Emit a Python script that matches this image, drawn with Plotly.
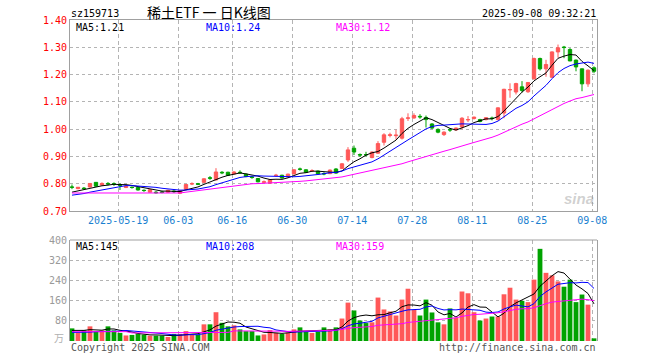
import plotly.graph_objects as go
import pandas as pd

# ---------------- data ----------------
dates = [d.strftime('%Y-%m-%d') for d in pd.bdate_range('2025-05-07', '2025-09-08')
         if d.strftime('%Y-%m-%d') != '2025-06-02']

opens = [0.788, 0.782, 0.784, 0.788, 0.805, 0.795, 0.801, 0.800, 0.797, 0.786,
         0.787, 0.786, 0.776, 0.769, 0.769, 0.770, 0.769, 0.773, 0.765, 0.780,
         0.799, 0.800, 0.805, 0.822, 0.814, 0.842, 0.842, 0.836, 0.842, 0.835,
         0.825, 0.819, 0.805, 0.802, 0.830, 0.831, 0.825, 0.836, 0.854, 0.851,
         0.847, 0.846, 0.837, 0.837, 0.854, 0.856, 0.887, 0.930, 0.907, 0.907,
         0.896, 0.912, 0.952, 0.977, 0.976, 0.967, 1.040, 1.041, 1.047, 1.043,
         1.019, 0.999, 0.980, 0.998, 0.997, 1.008, 1.034, 1.039, 1.035, 1.035,
         1.041, 1.035, 1.059, 1.144, 1.136, 1.155, 1.137, 1.185, 1.259, 1.221,
         1.190, 1.283, 1.301, 1.292, 1.253, 1.221, 1.166, 1.225]
highs = [0.797, 0.788, 0.788, 0.802, 0.806, 0.805, 0.806, 0.805, 0.801, 0.793,
         0.790, 0.788, 0.779, 0.780, 0.773, 0.774, 0.778, 0.776, 0.776, 0.798,
         0.805, 0.803, 0.820, 0.828, 0.857, 0.846, 0.844, 0.846, 0.849, 0.837,
         0.829, 0.821, 0.812, 0.816, 0.836, 0.833, 0.837, 0.853, 0.859, 0.853,
         0.853, 0.848, 0.842, 0.852, 0.857, 0.876, 0.934, 0.940, 0.911, 0.917,
         0.918, 0.956, 0.985, 0.987, 0.998, 1.045, 1.058, 1.058, 1.055, 1.050,
         1.022, 1.003, 0.992, 1.004, 1.006, 1.044, 1.048, 1.046, 1.038, 1.044,
         1.046, 1.080, 1.148, 1.168, 1.170, 1.176, 1.172, 1.262, 1.262, 1.254,
         1.285, 1.310, 1.305, 1.297, 1.255, 1.222, 1.219, 1.230]
lows = [0.780, 0.780, 0.778, 0.786, 0.789, 0.793, 0.794, 0.792, 0.777, 0.784,
        0.782, 0.775, 0.770, 0.768, 0.764, 0.765, 0.767, 0.766, 0.762, 0.778,
        0.795, 0.795, 0.803, 0.814, 0.812, 0.835, 0.828, 0.834, 0.836, 0.824,
        0.818, 0.805, 0.803, 0.800, 0.826, 0.819, 0.823, 0.834, 0.848, 0.840,
        0.843, 0.834, 0.831, 0.835, 0.836, 0.854, 0.880, 0.905, 0.898, 0.900,
        0.893, 0.910, 0.940, 0.970, 0.962, 0.962, 1.030, 1.038, 1.038, 1.006,
        1.000, 0.985, 0.975, 0.990, 0.995, 1.000, 1.026, 1.035, 1.025, 1.032,
        1.032, 1.032, 1.040, 1.115, 1.127, 1.135, 1.133, 1.180, 1.215, 1.192,
        1.188, 1.262, 1.260, 1.249, 1.212, 1.139, 1.155, 1.205]
closes = [0.787, 0.787, 0.782, 0.801, 0.791, 0.801, 0.799, 0.798, 0.794, 0.791,
          0.786, 0.777, 0.775, 0.778, 0.767, 0.768, 0.776, 0.771, 0.775, 0.797,
          0.800, 0.798, 0.818, 0.820, 0.843, 0.840, 0.831, 0.843, 0.840, 0.826,
          0.823, 0.807, 0.807, 0.814, 0.831, 0.821, 0.835, 0.851, 0.853, 0.842,
          0.848, 0.836, 0.836, 0.850, 0.839, 0.873, 0.924, 0.916, 0.905, 0.906,
          0.916, 0.947, 0.979, 0.979, 0.978, 1.038, 1.041, 1.050, 1.045, 1.035,
          1.004, 0.989, 0.989, 0.997, 1.004, 1.040, 1.035, 1.044, 1.028, 1.042,
          1.039, 1.078, 1.146, 1.145, 1.167, 1.142, 1.171, 1.259, 1.221, 1.237,
          1.283, 1.298, 1.299, 1.250, 1.228, 1.166, 1.216, 1.212]
volumes = [50, 34, 42, 58, 38, 42, 58, 42, 32, 22,
           24, 29, 25, 21, 21, 21, 16, 28, 28, 39,
           25, 24, 66, 66, 114, 72, 58, 62, 46, 39,
           39, 22, 26, 43, 32, 28, 33, 46, 54, 38,
           32, 37, 54, 46, 54, 89, 152, 121, 81, 71,
           74, 172, 125, 117, 101, 164, 207, 123, 101, 164,
           113, 74, 66, 129, 92, 196, 189, 114, 81, 89,
           97, 97, 185, 211, 164, 159, 154, 243, 365, 270,
           260, 236, 215, 243, 154, 184, 144, 10.5]

# moving-average values at the start of the window (history before the window)
ma5_head = [0.769, 0.774, 0.778, 0.784]
ma10_head = [0.758, 0.760, 0.764, 0.769, 0.773, 0.777, 0.780, 0.786, 0.790]
ma30_head = [0.766, 0.766, 0.766, 0.766, 0.766, 0.764, 0.764, 0.764, 0.764, 0.764,
             0.764, 0.764, 0.764, 0.764, 0.764, 0.764, 0.764, 0.764, 0.766, 0.769,
             0.772, 0.774, 0.777, 0.780, 0.783, 0.786, 0.788, 0.791, 0.794]
vma5_head = [42, 42, 42, 45]
vma10_head = [34, 34, 34, 35, 37, 37, 37, 38, 39]
vma30_head = [37, 37, 37, 37, 37, 37, 37, 37, 37, 37,
              32, 32, 32, 32, 32, 32, 32, 32, 32, 32,
              32, 32, 34, 34, 34, 34, 34, 40, 40]

tick_dates = ['2025-05-19', '2025-06-03', '2025-06-16', '2025-06-30', '2025-07-14',
              '2025-07-28', '2025-08-11', '2025-08-25', '2025-09-08']
tick_text = ['2025-05-19', '06-03', '06-16', '06-30', '07-14', '07-28', '08-11', '08-25', '09-08']
price_ticks = [0.70, 0.80, 0.90, 1.00, 1.10, 1.20, 1.30, 1.40]
vol_ticks = [80, 160, 240, 320, 400]

code = 'sz159713'
title = '稀土ETF\u00a0一\u00a0日K线图'
stamp = '2025-09-08 09:32:21'
price_ma_labels = ['MA5:1.21', 'MA10:1.24', 'MA30:1.12']
vol_ma_labels = ['MA5:145', 'MA10:208', 'MA30:159']

# ---------------- derived ----------------
def ma(values, n, head):
    s = pd.Series(values, dtype=float).rolling(n).mean().tolist()
    s[:len(head)] = head
    return s

x = list(range(len(dates)))
ma5 = ma(closes, 5, ma5_head)
ma10 = ma(closes, 10, ma10_head)
ma30 = ma(closes, 30, ma30_head)
vma5 = ma(volumes, 5, vma5_head)
vma10 = ma(volumes, 10, vma10_head)
vma30 = ma(volumes, 30, vma30_head)

RED = '#ff5858'
GREEN = '#00a300'
up = [c >= o for o, c in zip(opens, closes)]
vol_colors = [RED if u else GREEN for u in up]
tickpos = [dates.index(d) - 0.3 for d in tick_dates]

MONO = 'DejaVu Sans Mono'
GRIDC = '#b4b4b4'
FRAME = '#a0a0a0'

fig = go.Figure()
fig.add_trace(go.Candlestick(
    x=x, open=opens, high=highs, low=lows, close=closes,
    increasing=dict(line=dict(color=RED, width=1), fillcolor=RED),
    decreasing=dict(line=dict(color=GREEN, width=1), fillcolor=GREEN),
    whiskerwidth=0, xaxis='x', yaxis='y', showlegend=False, hoverinfo='skip'))
for ys, col in [(ma5, '#000000'), (ma10, '#0000ff'), (ma30, '#ff00ff')]:
    fig.add_trace(go.Scatter(x=x, y=ys, mode='lines', line=dict(color=col, width=1),
                             xaxis='x', yaxis='y', showlegend=False, hoverinfo='skip'))

fig.add_trace(go.Bar(x=x, y=volumes, marker=dict(color=vol_colors, line=dict(width=0)),
                     width=0.8, xaxis='x2', yaxis='y2', showlegend=False, hoverinfo='skip'))
for ys, col in [(vma5, '#000000'), (vma10, '#0000ff'), (vma30, '#ff00ff')]:
    fig.add_trace(go.Scatter(x=x, y=ys, mode='lines', line=dict(color=col, width=1),
                             xaxis='x2', yaxis='y2', showlegend=False, hoverinfo='skip'))

L, R, T, B = 70, 63, 20, 19
W, H = 660, 360
PW, PH = W - L - R, H - T - B

def px(xp):
    return (xp - L) / PW

def py(yp):
    return (H - B - yp) / PH

xrange = [-0.33, len(dates) - 0.5]
fig.update_layout(
    width=W, height=H,
    margin=dict(l=L, r=R, t=T, b=B, pad=0),
    paper_bgcolor='white', plot_bgcolor='white',
    boxgap=0.2,
    font=dict(family=MONO, size=10, color='#000'),
    xaxis=dict(domain=[0, 1], anchor='y', range=xrange, rangeslider=dict(visible=False),
               tickmode='array', tickvals=tickpos, ticktext=tick_text,
               tickfont=dict(color='#1a7fd0', size=10, family=MONO), ticks='',
               showgrid=True, gridcolor=GRIDC, griddash='4px,3px', gridwidth=1,
               showline=True, linecolor=FRAME, linewidth=1, mirror=True, zeroline=False),
    yaxis=dict(domain=[py(211), 1], anchor='x', range=[0.70, 1.40],
               tickmode='array', tickvals=price_ticks, ticktext=['%.2f' % v for v in price_ticks],
               tickfont=dict(color='#ff0000', size=10, family=MONO), ticks='',
               showgrid=True, gridcolor=GRIDC, griddash='dot', gridwidth=1,
               showline=True, linecolor=FRAME, linewidth=1, mirror=True, zeroline=False),
    xaxis2=dict(domain=[0, 1], anchor='y2', range=xrange, matches='x',
                tickmode='array', tickvals=tickpos, showticklabels=False, ticks='',
                showgrid=True, gridcolor=GRIDC, griddash='4px,3px', gridwidth=1,
                showline=False, zeroline=False),
    yaxis2=dict(domain=[0, py(240)], anchor='x2', range=[0, 400],
                tickmode='array', tickvals=vol_ticks, ticktext=[str(v) for v in vol_ticks],
                tickfont=dict(color='#9a9a9a', size=10, family=MONO), ticks='',
                showgrid=True, gridcolor=GRIDC, griddash='dot', gridwidth=1,
                showline=True, linecolor=FRAME, linewidth=1, mirror=True, zeroline=False),
    bargap=0.2,
)

fig.add_shape(type='line', xref='x2 domain', yref='y2 domain', x0=0, x1=1, y0=1, y1=1,
              line=dict(color=FRAME, width=1))

ann = []
def add_text(t, xp, yp, color='#000', size=10, xanchor='left', family=MONO, yanchor='middle'):
    ann.append(dict(text=t, x=px(xp), y=py(yp), xref='paper', yref='paper', showarrow=False,
                    xanchor=xanchor, yanchor=yanchor, font=dict(color=color, size=size, family=family)))

add_text(code, 69, 13, size=10)
add_text(title, 209, 12, size=14, xanchor='center', family='Noto Sans CJK SC, ' + MONO)
add_text(stamp, 598, 13, xanchor='right', size=10)
ma_cols = ['#000000', '#0000ff', '#ff00ff']
for lab, col, xp in zip(price_ma_labels, ma_cols, [74, 204, 334]):
    add_text(lab, xp, 27, color=col, size=10)
for lab, col, xp in zip(vol_ma_labels, ma_cols, [74, 204, 334]):
    add_text(lab, xp, 246, color=col, size=10)
add_text('万', 66, 337, color='#b0b0b0', size=10, xanchor='right', family='Noto Sans CJK SC')
add_text('Copyright 2025 SINA.COM', 69, 347, color='#555555', size=10)
add_text('http://finance.sina.com.cn', 598, 347, color='#555555', size=10, xanchor='right')
add_text('<b><i>sina</i></b>', 596, 198, color='rgba(150,150,150,0.45)', size=15, xanchor='right',
         family='Liberation Sans')
fig.update_layout(annotations=ann)

fig.write_html('out.html', config={'displayModeBar': False},
               post_script="document.body.style.margin='0';document.body.style.overflow='hidden';")
